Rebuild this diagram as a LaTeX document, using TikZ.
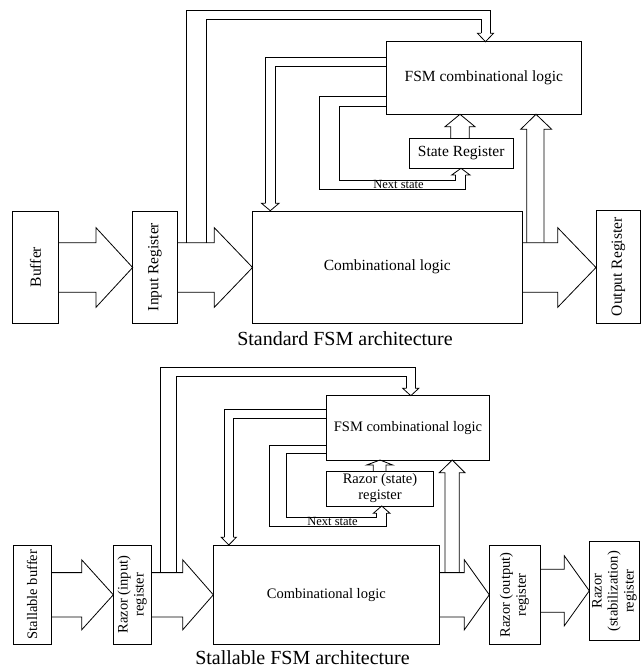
\documentclass[tikz,border=0pt]{standalone}
\usepackage{fontspec}
\setmainfont{Liberation Serif}
\newcommand{\fsA}{\fontsize{15.5}{18.6}\selectfont}
\newcommand{\fsB}{\fontsize{14.5}{16}\selectfont}
\newcommand{\fsN}{\fontsize{12.5}{14}\selectfont}
\newcommand{\fsC}{\fontsize{20}{24}\selectfont}
% fat hollow arrow: x0, xbase, xtip, ycenter, shaft half, head half
\newcommand{\fatarrow}[6]{%
  \draw[ln] (#1,#4-#5) -- (#2,#4-#5) -- (#2,#4-#6) -- (#3,#4) -- (#2,#4+#6) -- (#2,#4+#5) -- (#1,#4+#5);}
\begin{document}
\begin{tikzpicture}[x=1pt,y=-1pt,
  ln/.style={line width=0.8pt, line join=miter},
  box/.style={draw, line width=0.8pt, inner sep=0pt, outer sep=0pt, align=center},
  lbl/.style={inner sep=0pt, outer sep=0pt}]
\useasboundingbox (0,0) rectangle (643,669);
\fill[white] (0,0) rectangle (643,669);

% ================= TOP: Standard FSM =================
\node[box, anchor=north west, minimum width=45.6pt, minimum height=112pt] (buf) at (12.7,211) {\fsA\rotatebox{90}{Buffer}};
\node[box, anchor=north west, minimum width=44.6pt, minimum height=112pt] (inreg) at (132.7,211) {\fsA\rotatebox{90}{Input Register}};
\node[box, anchor=north west, minimum width=269.5pt, minimum height=112pt] (comb) at (252.5,211) {\fsA Combinational logic};
\node[box, anchor=north west, minimum width=44.7pt, minimum height=112.5pt] (outreg) at (596,210.5) {\fsA\rotatebox{90}{Output Register}};
\node[box, anchor=north west, minimum width=194.3pt, minimum height=72.3pt] (fsm) at (386.7,41.7) {\fsA FSM combinational logic};
\node[box, anchor=north west, minimum width=104.3pt, minimum height=29.5pt] (state) at (409,138.5) {\fsA State Register};

\fatarrow{58.3}{96}{132.7}{267.5}{24.8}{39.8}
\fatarrow{177.3}{214.3}{252.5}{267.5}{24.8}{39.8}
\fatarrow{522}{557.7}{596}{267.5}{24.8}{39.8}

% input -> FSM top loop
\draw[ln] (186.7,242.7) -- (186.7,10) -- (490,10) -- (490,33.3);
\draw[ln] (206,242.7) -- (206,19.3) -- (481,19.3) -- (481,33.3);
\draw[ln] (481,33.3) -- (477.5,33.3) -- (485.5,41.7) -- (493.5,33.3) -- (490,33.3);
% FSM -> comb
\draw[ln] (fsm.west |- 0,57.3) -- (265.7,57.3) -- (265.7,203.3);
\draw[ln] (fsm.west |- 0,66.7) -- (275,66.7) -- (275,203.3);
\draw[ln] (265.7,203.3) -- (261.5,203.3) -- (270.3,210.7) -- (279,203.3) -- (275,203.3);
% next state loop
\draw[ln] (fsm.west |- 0,96.7) -- (319.3,96.7) -- (319.3,189.3) -- (465.7,189.3) -- (465.7,175);
\draw[ln] (fsm.west |- 0,106.7) -- (339,106.7) -- (339,180) -- (455.5,180) -- (455.5,175);
\draw[ln] (455.5,175) -- (451.7,175) -- (461,168.3) -- (470,175) -- (465.7,175);
\node[lbl] (ns1) at (398.5,184) {\fsN Next state};
% state -> FSM
\draw[ln] (450.7,138.5) -- (450.7,126.7) -- (445,126.7) -- (460,114.3) -- (475,126.7) -- (469.3,126.7) -- (469.3,138.5);
% comb -> FSM
\draw[ln] (526.7,242.7) -- (526.7,129.3) -- (520.7,129.3) -- (536,114.3) -- (551.7,129.3) -- (544,129.3) -- (544,242.7);

\node[lbl] (cap1) at (345,339) {\fsC Standard FSM architecture};

% ================= BOTTOM: Stallable FSM =================
\node[box, anchor=north west, minimum width=37.7pt, minimum height=99.3pt] (sbuf) at (13.3,545) {\fsB\rotatebox{90}{Stallable buffer}};
\node[box, anchor=north west, minimum width=38.4pt, minimum height=99.3pt] (rin) at (113.3,545) {\fsB\rotatebox{90}{\begin{tabular}{@{}c@{}}Razor (input)\\register\end{tabular}}};
\node[box, anchor=north west, minimum width=226pt, minimum height=99.3pt] (comb2) at (213.3,545) {\fsB Combinational logic};
\node[box, anchor=north west, minimum width=50.7pt, minimum height=98.6pt] (rout) at (489.3,545.7) {\fsB\rotatebox{90}{\begin{tabular}{@{}c@{}}Razor (output)\\register\end{tabular}}};
\node[box, anchor=north west, minimum width=50.2pt, minimum height=99pt] (rstab) at (589.3,541.7) {\fsB\rotatebox{90}{\begin{tabular}{@{}c@{}}Razor\\(stabilization)\\register\end{tabular}}};
\node[box, anchor=north west, minimum width=162.6pt, minimum height=64.3pt] (fsm2) at (326.7,395.7) {\fsB FSM combinational logic};
\node[box, anchor=north west, minimum width=106.6pt, minimum height=34.5pt] (rstate) at (326.7,471.5) {\fsB\begin{tabular}{@{}c@{}}Razor (state)\\register\end{tabular}};

\fatarrow{51}{81.7}{113.3}{594.8}{22.2}{35}
\fatarrow{151.7}{182.7}{213.3}{594.8}{22.2}{35}
\fatarrow{439.3}{464.3}{489.3}{594.8}{22.2}{35}
\fatarrow{540}{564.3}{589.3}{590.8}{21.5}{35}

% input -> FSM top loop
\draw[ln] (160,572.6) -- (160,367.7) -- (415,367.7) -- (415,388.3);
\draw[ln] (176,572.6) -- (176,376.7) -- (406.7,376.7) -- (406.7,388.3);
\draw[ln] (406.7,388.3) -- (402.7,388.3) -- (410.8,395.7) -- (418.8,388.3) -- (415,388.3);
% FSM -> comb
\draw[ln] (fsm2.west |- 0,409.3) -- (224.3,409.3) -- (224.3,537.3);
\draw[ln] (fsm2.west |- 0,418.3) -- (233.3,418.3) -- (233.3,537.3);
\draw[ln] (224.3,537.3) -- (221.3,537.3) -- (228.8,545) -- (236.3,537.3) -- (233.3,537.3);
% next state loop
\draw[ln] (fsm2.west |- 0,445) -- (269.3,445) -- (269.3,526) -- (386.5,526) -- (386.5,513.3);
\draw[ln] (fsm2.west |- 0,453.3) -- (286,453.3) -- (286,517.7) -- (376.5,517.7) -- (376.5,513.3);
\draw[ln] (376.5,513.3) -- (373.3,513.3) -- (381.7,506) -- (390,513.3) -- (386.5,513.3);
\node[lbl] (ns2) at (332.5,521.5) {\fsN Next state};
% razor state -> FSM
\draw[ln] (373.3,471.5) -- (373.3,465) -- (366.7,465) -- (380,460) -- (392.7,465) -- (386,465) -- (386,471.5);
% comb -> FSM
\draw[ln] (445,572.6) -- (445,472.7) -- (439.3,472.7) -- (452.3,460) -- (465,472.7) -- (459.3,472.7) -- (459.3,572.6);

\node[lbl] (cap2) at (302.5,657.5) {\fsC Stallable FSM architecture};
\end{tikzpicture}
\end{document}
